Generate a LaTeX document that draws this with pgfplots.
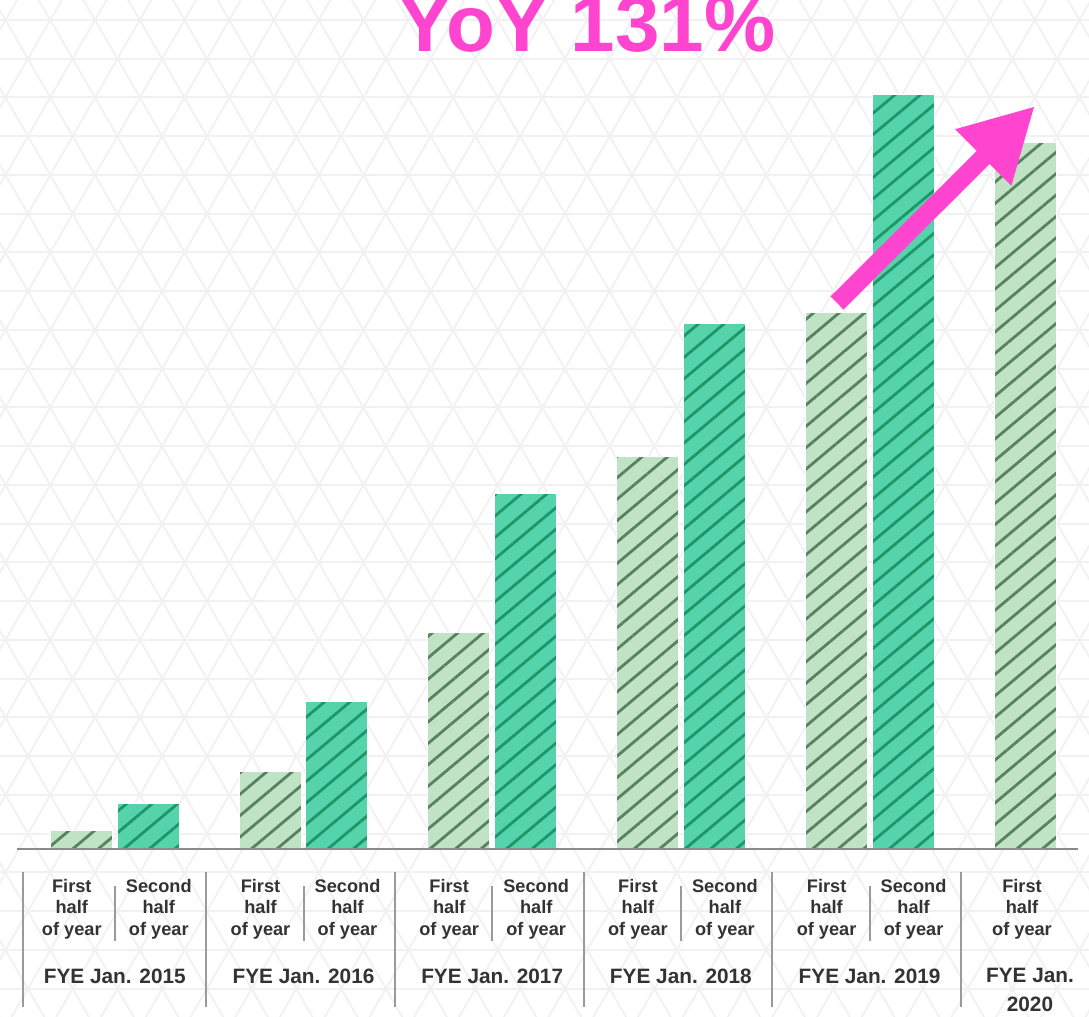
\documentclass[border=0pt]{standalone}
\usepackage{pgfplots}
\pgfplotsset{compat=1.18}
\usepackage{fontspec}
\setmainfont{Liberation Sans}
\usetikzlibrary{patterns.meta,arrows.meta}
\definecolor{lightbar}{HTML}{C1E3C5}
\definecolor{hatchA}{HTML}{56825F}
\definecolor{darkbar}{HTML}{55D3AA}
\definecolor{hatchB}{HTML}{1E9669}
\definecolor{titlepink}{HTML}{FF45CF}
\definecolor{txt}{HTML}{333333}
\definecolor{sepcol}{HTML}{9A9A9A}
\definecolor{latt}{HTML}{F1F1F1}
\begin{document}
\begin{tikzpicture}
\useasboundingbox (0pt,0pt) rectangle (544.5pt,508.5pt);
\clip (0pt,0pt) rectangle (544.5pt,508.5pt);
\fill[white] (0pt,0pt) rectangle (544.5pt,508.5pt);
% faint triangular background lattice (pixel units, y downward from top)
\begin{scope}[shift={(0pt,508.5pt)},x=0.5pt,y=-0.5pt]
\foreach \k in {0,...,26} \draw[latt,line width=1pt] (0,20+38.75*\k) -- (1089,20+38.75*\k);
\foreach \j in {-16,...,40} {
  \draw[latt,line width=0.9pt] (5.5+44.75*\j-22.375,-18.75) -- ++(22.375*30,38.75*30);
  \draw[latt,line width=0.9pt] (5.5+44.75*\j+22.375,-18.75) -- ++(-22.375*30,38.75*30);
}
\end{scope}
\begin{axis}[
  at={(8.5pt,83.75pt)}, anchor=south west,
  scale only axis, width=530.5pt, height=424.75pt,
  xmin=-0.518, xmax=5.104, ymin=0, ymax=849.5,
  axis lines=none, clip=false,
]
% first half of year
\addplot[ybar, bar width=0.3286, bar shift=0pt, fill=lightbar, draw=white, line width=0.5pt,
  postaction={pattern={Lines[angle=40,distance=8.2pt,line width=1.4pt]}, pattern color=hatchA}]
  coordinates {(-0.177,19) (0.823,78) (1.823,216.5) (2.823,392.5) (3.823,536.5) (4.828,707)};
% second half of year
\addplot[ybar, bar width=0.3286, bar shift=0pt, fill=darkbar, draw=white, line width=0.5pt,
  postaction={pattern={Lines[angle=40,distance=8.2pt,line width=1.4pt]}, pattern color=hatchB}]
  coordinates {(0.177,45.5) (1.177,147.5) (2.177,355.5) (3.177,525.5) (4.177,755)};
\end{axis}
\begin{scope}[shift={(0pt,508.5pt)},x=0.5pt,y=-0.5pt]
% baseline
\draw[sepcol!90!black, line width=1pt] (17,849.5) -- (1078,849.5);
% title
\node[anchor=base, text=titlepink, font=\fontsize{40pt}{42pt}\selectfont\bfseries, inner sep=0pt] at (587,52) {YoY 131\%};
% arrow
\draw[titlepink, line width=9.2pt, -{Triangle[length=36.5pt,width=37pt]}] (837,303) -- (1035,106);
% separators
\foreach \x in {23,206,395,584,772,961} \draw[sepcol, line width=1pt] (\x,872) -- (\x,1007);
\foreach \x in {114.8,303.5,492.2,680.9,869.6} \draw[sepcol, line width=1pt] (\x,886) -- (\x,941);
% labels
\foreach \c/\yr in {114.8/2015,303.5/2016,492.2/2017,680.9/2018,869.6/2019} {
  \node[anchor=base, text=txt, font=\fontsize{9.1pt}{10pt}\selectfont\bfseries, inner sep=0pt] at (\c-43,892.5) {First};
  \node[anchor=base, text=txt, font=\fontsize{9.1pt}{10pt}\selectfont\bfseries, inner sep=0pt] at (\c-43,914) {half};
  \node[anchor=base, text=txt, font=\fontsize{9.1pt}{10pt}\selectfont\bfseries, inner sep=0pt] at (\c-43,936) {of year};
  \node[anchor=base, text=txt, font=\fontsize{9.1pt}{10pt}\selectfont\bfseries, inner sep=0pt] at (\c+44,892.5) {Second};
  \node[anchor=base, text=txt, font=\fontsize{9.1pt}{10pt}\selectfont\bfseries, inner sep=0pt] at (\c+44,914) {half};
  \node[anchor=base, text=txt, font=\fontsize{9.1pt}{10pt}\selectfont\bfseries, inner sep=0pt] at (\c+44,936) {of year};
  \node[anchor=base, text=txt, font=\fontsize{10.4pt}{12pt}\selectfont\bfseries, inner sep=0pt] at (\c,984) {FYE Jan. \yr};
}
\node[anchor=base, text=txt, font=\fontsize{9.1pt}{10pt}\selectfont\bfseries, inner sep=0pt] at (1022,892.5) {First};
\node[anchor=base, text=txt, font=\fontsize{9.1pt}{10pt}\selectfont\bfseries, inner sep=0pt] at (1022,914) {half};
\node[anchor=base, text=txt, font=\fontsize{9.1pt}{10pt}\selectfont\bfseries, inner sep=0pt] at (1022,936) {of year};
\node[anchor=base, text=txt, font=\fontsize{10.4pt}{12pt}\selectfont\bfseries, inner sep=0pt] at (1030,983) {FYE Jan.};
\node[anchor=base, text=txt, font=\fontsize{10.4pt}{12pt}\selectfont\bfseries, inner sep=0pt] at (1030,1012) {2020};
\end{scope}
\end{tikzpicture}
\end{document}
